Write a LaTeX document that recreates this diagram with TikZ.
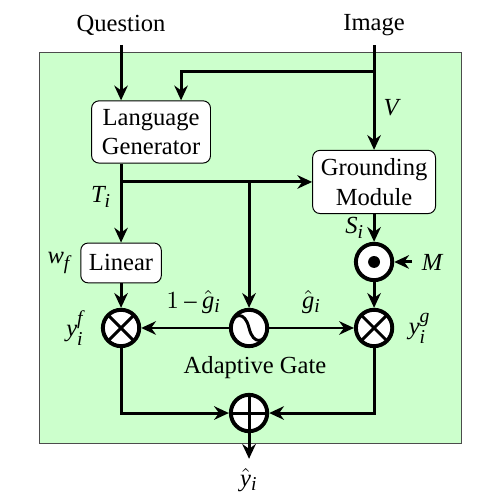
\documentclass[tikz,border=0pt]{standalone}
\usepackage{fontspec}
\setmainfont{Liberation Serif}
\newfontfamily\lsfont{Liberation Serif}
\usepackage[italic]{mathastext}
\usetikzlibrary{positioning, arrows.meta}

\begin{document}
\begin{tikzpicture}[very thick, >={Stealth[length=6pt,width=5.5pt]}, every node/.style={font=\lsfont},
  blk/.style = {draw, thin, fill=white, rounded corners=3pt, align=center, minimum width=1.7cm, minimum height=0.86cm},
  op/.style = {draw, circle, ultra thick, fill=white, minimum size=0.52cm, inner sep=0pt},
  mul/.style = {op, path picture={\draw[black, very thick] (path picture bounding box.north west) -- (path picture bounding box.south east) (path picture bounding box.north east) -- (path picture bounding box.south west);}},
  add/.style = {op, path picture={\draw[black, very thick] (path picture bounding box.north) -- (path picture bounding box.south) (path picture bounding box.east) -- (path picture bounding box.west);}},
  hada/.style = {op, path picture={\fill[black] (path picture bounding box.center) circle (0.085cm);}},
  sigm/.style = {op, path picture={\draw[black, very thick, shift={(path picture bounding box.center)}] (-0.27,0.04) .. controls (-0.22,0.21) and (-0.06,0.25) .. (0,0) .. controls (0.06,-0.25) and (0.22,-0.21) .. (0.27,-0.04);}}]
\useasboundingbox (0,0) rectangle (7.136,-7.164);
\draw[thin, draw=black!70, fill=green!20] (0.558,-0.744) rectangle (6.592,-6.335);

\node[sigm] (sg) at (3.561,-4.690) {};
\node[mul] (mf) [left of=sg, node distance=1.83cm, label={[name=yf, label distance=3pt]left:$y_i^f$}] {};
\node[mul] (mg) [right of=sg, node distance=1.788cm, label={[name=yg, label distance=2pt]right:$y_i^g$}] {};
\node[add] (ad) [below of=sg, node distance=1.216cm] {};
\node (yh) [below of=ad, node distance=0.958cm] {$\hat{y}_i$};
\node (ag) [below of=sg, node distance=0.56cm, xshift=0.086cm] {Adaptive Gate};
\node[blk, minimum width=1.14cm, minimum height=0.57cm] (lin) [above of=mf, node distance=0.93cm, label={[name=wf]left:$w_f$}] {Linear};
\node[hada] (hd) [above of=mg, node distance=0.944cm] {};
\node (m) [right of=hd, node distance=0.83cm] {$M$};
\node[blk] (gm) [above of=hd, node distance=1.144cm] {Grounding\\Module};
\node[blk] (lg) [above of=lin, node distance=1.873cm, xshift=0.429cm] {Language\\Generator};
\node (qu) [above of=lin, node distance=3.403cm] {Question};
\node (im) [above of=gm, node distance=2.245cm] {Image};

\coordinate (br) at ([yshift=-0.672cm]im.center);
\coordinate (ti) at (lin |- gm.west);
\node (lt) [below left=-2pt and 0pt of ti] {$T_i$};

\draw[->] (qu) -- (qu |- lg.north);
\draw[->] (im) -- node[right, pos=0.6] (lv) {$V$} (im |- gm.north);
\draw[->] (br) -| ([xshift=0.429cm]lg.north);
\draw[->] (lin |- lg.south) -- (lin);
\draw[->] (ti) -- (gm);
\draw[->] (sg |- ti) -- (sg);
\draw[->] (gm) -- node[left] (ls) {$S_i$} (hd);
\draw[->] (m) -- (hd);
\draw[->] (hd) -- (mg);
\draw[->] (lin) -- (mf);
\draw[->] (sg) -- node[above=2pt, pos=0.4] (l1) {$1-\hat{g}_i$} (mf);
\draw[->] (sg) -- node[above=2pt] (l2) {$\hat{g}_i$} (mg);
\draw[->] (mf) |- (ad);
\draw[->] (mg) |- (ad);
\draw[->] (ad) -- (yh);

\end{tikzpicture}
\end{document}
